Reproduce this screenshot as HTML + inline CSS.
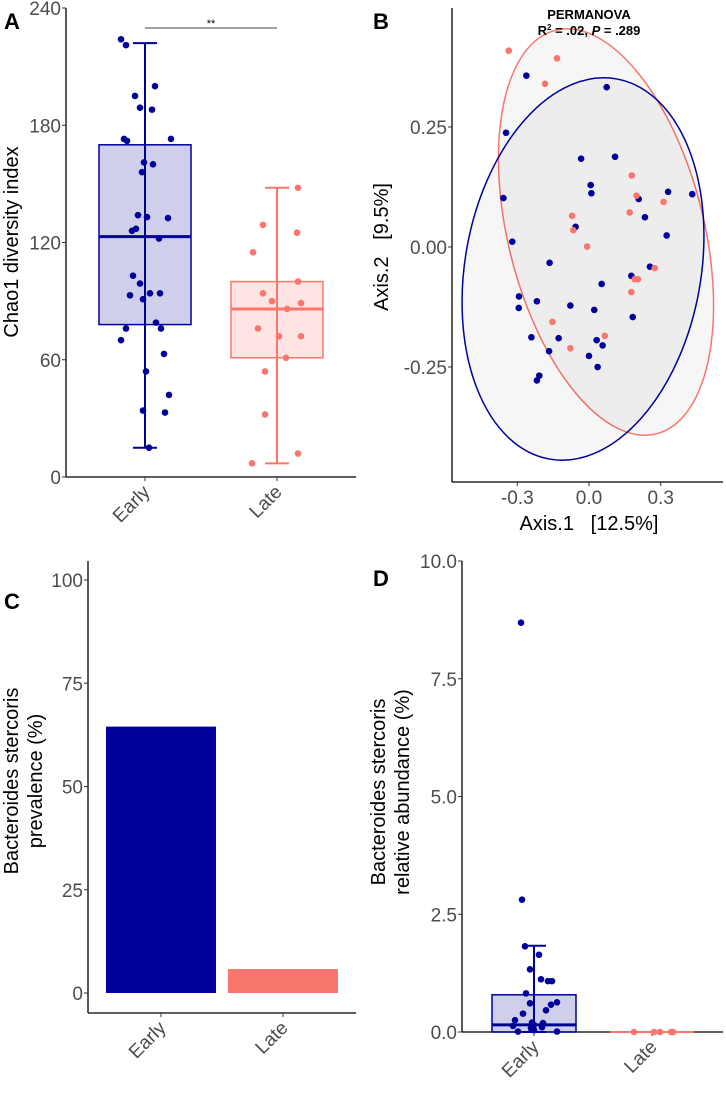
<!DOCTYPE html>
<html><head><meta charset="utf-8"><style>
body{margin:0;background:#fff}
svg{display:block;font-family:"Liberation Sans",Arial,sans-serif}
.tk{fill:#4d4d4d;font-size:19px}
.tt{fill:#000;font-size:20px;white-space:pre}
.lab{font-weight:bold;font-size:22px}
</style></head><body>
<svg id="s" width="726" height="1097" viewBox="0 0 726 1097" xmlns="http://www.w3.org/2000/svg"></svg>
<script>
// Panel A data
const aGroups=["Early","Late"];
const aTicks=[0,60,120,180,240];
const aEarly=[224,221,200,195,189,188,173,172,173,161,160,156,134,133,132.5,127,126,122,103,99,93,94,94,91,79,76,76,70,63,54,42,34,33,15];
const aEarlyJit=[-24,-19,10,-10,-5,7,-21,-18,26,-1,8,-3,-7,2,23,-9,-13,14,-12,-5,-15,5,15,-2,11,16,-19,-24,19,1,24,-2,20,4];
const aLate=[148,129,125,115,100,94,90,89,86,76,72,72,61,54,32,12,7];
const aLateJit=[21,-14,20,-24,21,-14,-5,24,10,-19,2,24,9,-12,-12,21,-25];
const aStatsEarly=[15,78,123,170,222]; // min,q1,med,q3,max
const aStatsLate=[7,61,86,100,148];
// Panel B data
const bTicksX=[-0.3,0,0.3];
const bTicksY=[-0.25,0,0.25];
const bEarlyX=[-0.262,0.074,-0.347,-0.033,0.109,0.007,0.010,-0.358,0.331,0.432,0.208,0.234,-0.056,0.325,-0.321,-0.165,0.255,0.177,0.053,-0.293,-0.294,-0.218,-0.078,0.022,0.183,-0.241,-0.127,0.032,0.057,-0.167,0.000,0.036,-0.208,-0.218];
const bEarlyY=[0.357,0.333,0.238,0.184,0.188,0.129,0.112,0.102,0.115,0.110,0.100,0.062,0.042,0.024,0.011,-0.033,-0.041,-0.060,-0.077,-0.103,-0.127,-0.113,-0.122,-0.131,-0.146,-0.188,-0.190,-0.194,-0.205,-0.217,-0.227,-0.250,-0.268,-0.278];
const bLateX=[-0.336,-0.134,-0.184,0.179,0.199,0.312,0.170,-0.071,-0.066,-0.008,0.275,0.191,0.205,0.177,-0.153,0.066,-0.078];
const bLateY=[0.409,0.393,0.340,0.149,0.107,0.094,0.072,0.065,0.035,0.001,-0.044,-0.067,-0.067,-0.094,-0.156,-0.185,-0.211];
// Panel C data
const cGroups=["Early","Late"];
const cValues=[64.5,5.8];
const cTicks=[0,25,50,75,100];
// Panel D data
const dTicks=[0,2.5,5,7.5,10];
const dEarly=[8.69,2.81,1.82,1.64,1.33,1.12,1.08,1.08,0.82,0.61,0.58,0.63,0.46,0.39,0.25,0.20,0.19,0.13,0.15,0.10,0.08,0.04,0.01,0.01];
const dEarlyJit=[-13,-12,-9,5,-4,7,14,18,-8,-4,17,23,12,-11,-19,-2,9,-21,0,8,-3,0,-16,23];
const dLate=[0,0,0,0,0];
const dLateJit=[-18,2,8,19,21];
const dStatsEarly=[0,0,0.15,0.79,1.83];

const NS="http://www.w3.org/2000/svg";
const S=document.getElementById('s');
function mk(tag,at,txt,par){const e=document.createElementNS(NS,tag);for(const k in at)e.setAttribute(k,at[k]);if(txt!==undefined)e.textContent=txt;(par||S).appendChild(e);return e;}
const BLUE="#00009b",SAL="#f8766d";

function yAxis(x,yTop,scale,ticks,fmt,name){
  const l=mk('line',{x1:x,y1:yTop,x2:x,y2:scale(ticks[0])+0,stroke:'#000','stroke-width':1.3});
  
  ticks.forEach(t=>{const y=scale(t);
    mk('line',{x1:x-4,y1:y,x2:x,y2:y,stroke:'#333'});
    const tx=mk('text',{x:x-5,y:y+7,'text-anchor':'end',class:'tk'},fmt(t));
    });
}
function xCatAxis(x1,x2,y,cats,xs,name){
  const l=mk('line',{x1:x1,y1:y,x2:x2,y2:y,stroke:'#000','stroke-width':1.3});
  
  cats.forEach((c,i)=>{mk('line',{x1:xs[i],y1:y,x2:xs[i],y2:y+4,stroke:'#333'});
    const t=mk('text',{x:xs[i]+6,y:y+16,'text-anchor':'end',class:'tk',transform:`rotate(-45 ${xs[i]+6} ${y+16})`},c);
    });
}
function box(cx,hw,st,sc,col,fill,name){
  const g=mk('g',{});
  mk('line',{x1:cx,y1:sc(st[0]),x2:cx,y2:sc(st[4]),stroke:col,'stroke-width':2},undefined,g);
  mk('line',{x1:cx-12,y1:sc(st[0]),x2:cx+12,y2:sc(st[0]),stroke:col,'stroke-width':2},undefined,g);
  mk('line',{x1:cx-12,y1:sc(st[4]),x2:cx+12,y2:sc(st[4]),stroke:col,'stroke-width':2},undefined,g);
  mk('rect',{x:cx-hw,y:sc(st[3]),width:2*hw,height:sc(st[1])-sc(st[3]),fill:fill,stroke:col,'stroke-width':1.5},undefined,g);
  mk('line',{x1:cx-hw,y1:sc(st[2]),x2:cx+hw,y2:sc(st[2]),stroke:col,'stroke-width':3},undefined,g);
  mk('line',{x1:cx,y1:sc(st[3]),x2:cx,y2:sc(st[1]),stroke:col,'stroke-width':2},undefined,g);
}
function pts(vals,jit,cx,sc,col,name){vals.forEach((v,i)=>{const c=mk('circle',{cx:cx+jit[i],cy:sc(v),r:3.3,fill:col});
  });}
function label(t,x,y){const e=mk('text',{x:x,y:y,class:'lab'},t);}

// ---- Panel A
const aY=v=>477-v*(469/240);
const aX=[145,277];
yAxis(66,8,aY,aTicks,String,'panel-a');
xCatAxis(66,356,477,aGroups,aX,'panel-a');
box(aX[0],46,aStatsEarly,aY,BLUE,'rgba(0,0,155,0.19)','early-box-a');
box(aX[1],46,aStatsLate,aY,SAL,'rgba(248,118,109,0.2)','late-box-a');
pts(aEarly,aEarlyJit,aX[0],aY,BLUE,'early-point-a');
pts(aLate,aLateJit,aX[1],aY,SAL,'late-point-a');
let e=mk('line',{x1:aX[0],y1:28,x2:aX[1],y2:28,stroke:'#000','stroke-width':0.8});
e=mk('text',{x:211,y:27,'text-anchor':'middle','font-size':'11px'},'**');
e=mk('text',{x:0,y:0,class:'tt','text-anchor':'middle',transform:'translate(18 242) rotate(-90)'},'Chao1 diversity index');
label('A',4,29);

// ---- Panel B
const bX=v=>589+v*239, bY=v=>247-v*480;
e=mk('ellipse',{cx:606,cy:232,rx:98,ry:208,transform:'rotate(-14 606 232)',fill:'rgba(0,0,0,0.035)',stroke:SAL,'stroke-width':1.5});
e=mk('ellipse',{cx:583,cy:269,rx:118,ry:193,transform:'rotate(10 583 269)',fill:'rgba(0,0,0,0.035)',stroke:BLUE,'stroke-width':1.5});
e=mk('line',{x1:452,y1:8,x2:452,y2:482,stroke:'#000','stroke-width':1.3});
e=mk('line',{x1:452,y1:482,x2:723,y2:482,stroke:'#000','stroke-width':1.3});
bTicksY.forEach(t=>{mk('line',{x1:448,y1:bY(t),x2:452,y2:bY(t),stroke:'#333'});e=mk('text',{x:447,y:bY(t)+7,'text-anchor':'end',class:'tk'},t.toFixed(2));});
bTicksX.forEach(t=>{mk('line',{x1:bX(t),y1:482,x2:bX(t),y2:486,stroke:'#333'});e=mk('text',{x:bX(t),y:504,'text-anchor':'middle',class:'tk'},t.toFixed(1));});
bEarlyX.forEach((v,i)=>{e=mk('circle',{cx:bX(v),cy:bY(bEarlyY[i]),r:3.3,fill:BLUE});});
bLateX.forEach((v,i)=>{e=mk('circle',{cx:bX(v),cy:bY(bLateY[i]),r:3.3,fill:SAL});});
e=mk('text',{x:589,y:19,'text-anchor':'middle','font-size':'13px','font-weight':'bold'},'PERMANOVA');
e=mk('text',{x:589,y:35,'text-anchor':'middle','font-size':'13px','font-weight':'bold'});
e.innerHTML='R<tspan dy="-5" font-size="8px">2</tspan><tspan dy="5"> = .02, </tspan><tspan font-style="italic">P</tspan> = .289';
e=mk('text',{x:589,y:530,'text-anchor':'middle',class:'tt'},'Axis.1   [12.5%]');
e=mk('text',{x:0,y:0,'text-anchor':'middle',class:'tt',transform:'translate(388 247) rotate(-90)'},'Axis.2   [9.5%]');
label('B',373,29);

// ---- Panel C
const cY=v=>993-v*4.13;
const cX=[161,283];
e=mk('line',{x1:88,y1:561,x2:88,y2:1013,stroke:'#000','stroke-width':1.3});
cTicks.forEach(t=>{mk('line',{x1:84,y1:cY(t),x2:88,y2:cY(t),stroke:'#333'});e=mk('text',{x:83,y:cY(t)+7,'text-anchor':'end',class:'tk'},String(t));});
[BLUE,SAL].forEach((col,i)=>{e=mk('rect',{x:cX[i]-55,y:cY(cValues[i]),width:110,height:cY(0)-cY(cValues[i]),fill:col});});
xCatAxis(88,356,1013,cGroups,cX,'panel-c');
e=mk('text',{x:0,y:0,'text-anchor':'middle',class:'tt',transform:'translate(18 781) rotate(-90)'},'Bacteroides stercoris');
e=mk('text',{x:0,y:0,'text-anchor':'middle',class:'tt',transform:'translate(42 781) rotate(-90)'},'prevalence (%)');
label('C',4,609);

// ---- Panel D
const dY=v=>1032-v*47.1;
const dX=[534,652];
yAxis(462,561,dY,dTicks,v=>v.toFixed(1),'panel-d');
xCatAxis(462,723,1032,aGroups,dX,'panel-d');
box(dX[0],42,dStatsEarly,dY,BLUE,'rgba(0,0,155,0.19)','early-box-d');
e=mk('line',{x1:dX[1]-42,y1:dY(0),x2:dX[1]+42,y2:dY(0),stroke:SAL,'stroke-width':2});
pts(dEarly,dEarlyJit,dX[0],dY,BLUE,'early-point-d');
pts(dLate,dLateJit,dX[1],dY,SAL,'late-point-d');
e=mk('text',{x:0,y:0,'text-anchor':'middle',class:'tt',transform:'translate(385 792) rotate(-90)'},'Bacteroides stercoris');
e=mk('text',{x:0,y:0,'text-anchor':'middle',class:'tt',transform:'translate(409 792) rotate(-90)'},'relative abundance (%)');
label('D',373,586);
</script>
</body></html>
